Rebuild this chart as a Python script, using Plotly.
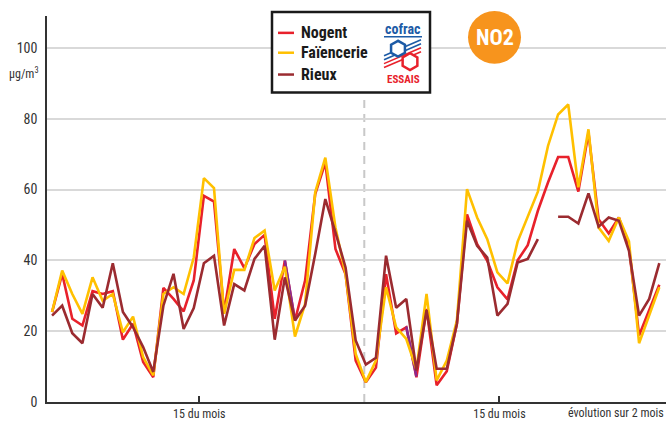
import math
import plotly.graph_objects as go

# ---------------- data ----------------
days = list(range(61))
nogent = [25.4, 36.2, 23.5, 21.6, 31.3, 30.5, 31.3, 17.6, 22.1, 11.3,
          7.0, 32.2, 29.1, 25.6, 34.3, 58.2, 56.6, 25.4, 43.2, 37.8,
          44.6, 47.2, 23.5, 39.9, 23.0, 34.3, 58.7, 67.6, 43.2, 36.1,
          11.7, 5.6, 9.7, 36.1, 19.4, 21.1, 7.0, 26.3, 4.7, 8.7,
          22.1, 53.0, 44.6, 39.9, 32.4, 29.0, 40.0, 44.3, 54.0, 62.0,
          69.2, 69.2, 59.4, 76.0, 51.6, 47.6, 52.1, 43.7, 18.8, 25.8, 33.1]
faiencerie = [25.4, 37.1, 30.5, 24.9, 35.2, 28.6, 30.5, 19.7, 24.1, 12.7,
              7.5, 30.5, 32.4, 30.5, 40.8, 63.2, 60.4, 24.9, 37.3, 37.3,
              46.3, 48.4, 31.5, 38.2, 18.5, 27.7, 59.2, 69.0, 49.3, 36.1,
              13.6, 5.6, 11.7, 32.4, 21.1, 17.8, 9.2, 30.5, 6.1, 11.7,
              23.0, 60.1, 52.1, 46.0, 36.6, 33.5, 45.3, 52.3, 59.4, 72.3,
              81.2, 84.0, 60.6, 77.0, 49.3, 45.5, 52.1, 45.4, 16.6, 24.5, 32.4]
rieux = [24.4, 27.2, 19.4, 16.6, 30.5, 26.6, 39.2, 25.4, 21.1, 15.5,
         8.5, 27.2, 36.2, 20.6, 26.5, 39.2, 41.3, 21.6, 33.3, 31.5,
         40.4, 44.1, 17.6, 35.2, 23.0, 27.2, 41.8, 57.3, 47.9, 38.0,
         17.4, 10.6, 12.5, 41.3, 26.6, 29.1, 8.9, 26.0, 9.4, 9.4,
         22.1, 51.2, 44.1, 40.8, 24.4, 27.7, 39.4, 40.4, 46.0, None,
         52.3, 52.3, 50.4, 58.9, 49.5, 52.1, 51.2, 42.7, 24.4, 29.1, 39.2]
violet_days = [23, 24, None, 35, 36]
violet = [40.0, 23.0, None, 21.3, 7.2]

series_names = ["Nogent", "Faïencerie", "Rieux"]
x_tick_labels = ["15 du mois", "15 du mois"]
y_tick_values = [0, 20, 40, 60, 80, 100]

# ---------------- styles ----------------
C_RED = "#e8212b"
C_YEL = "#ffc000"
C_DARK = "#9b2b30"
C_VIO = "#8a2a90"
FONT = "Liberation Sans Narrow, Roboto Condensed, Roboto, sans-serif"

# plot area in pixels: left 47, right 666, top 16, bottom 405
L, R, T, B = 47, 666, 16, 405
def px(x):
    return (x - L) / (R - L)
def py(y):
    return (B - y) / (B - T)

fig = go.Figure()
lw = 2.6
fig.add_trace(go.Scatter(x=days, y=nogent, mode="lines", name=series_names[0],
                         line=dict(color=C_RED, width=lw)))
fig.add_trace(go.Scatter(x=violet_days, y=violet, mode="lines", showlegend=False,
                         line=dict(color=C_VIO, width=lw)))
fig.add_trace(go.Scatter(x=days, y=faiencerie, mode="lines", name=series_names[1],
                         line=dict(color=C_YEL, width=lw)))
fig.add_trace(go.Scatter(x=days, y=rieux, mode="lines", name=series_names[2],
                         line=dict(color=C_DARK, width=lw)))

shapes = []
annotations = []

# dashed separator between the two months
shapes.append(dict(type="line", xref="x", yref="y", x0=30.85, x1=30.85, y0=0, y1=86,
                   line=dict(color="#c8c8c8", width=2, dash="8px,6px"), layer="below"))

# legend box
shapes.append(dict(type="rect", xref="paper", yref="paper",
                   x0=px(272), x1=px(430), y0=py(93), y1=py(12),
                   line=dict(color="#1a1a1a", width=2.5), fillcolor="white", layer="above"))
leg_y = [33, 53, 75]
leg_c = [C_RED, C_YEL, C_DARK]
for name, yy, cc in zip(series_names, leg_y, leg_c):
    shapes.append(dict(type="line", xref="paper", yref="paper",
                       x0=px(278), x1=px(294), y0=py(yy), y1=py(yy),
                       line=dict(color=cc, width=2.5), layer="above"))
    annotations.append(dict(text="<b>%s</b>" % name, xref="paper", yref="paper",
                            x=px(299), y=py(yy), xanchor="left", yanchor="middle",
                            showarrow=False, font=dict(family=FONT, size=16, color="#1a1a1a")))

# cofrac logo
annotations.append(dict(text="<b>cofrac</b>", xref="paper", yref="paper", x=px(403), y=py(29),
                        xanchor="center", yanchor="middle", showarrow=False,
                        font=dict(family=FONT, size=14, color="#1d5ba6")))
annotations.append(dict(text="<b>ESSAIS</b>", xref="paper", yref="paper", x=px(403), y=py(80),
                        xanchor="center", yanchor="middle", showarrow=False,
                        font=dict(family=FONT, size=11, color="#e8212b")))
shapes.append(dict(type="line", xref="paper", yref="paper", x0=px(384), x1=px(422),
                   y0=py(37), y1=py(37), line=dict(color="#1d5ba6", width=1.5), layer="above"))
def hexpath(cx, cy, r):
    pts = []
    for k in range(6):
        a = math.radians(90 + 60 * k)
        pts.append((px(cx + r * math.cos(a)), py(cy - r * math.sin(a))))
    return "M " + " L ".join("%f,%f" % p for p in pts) + " Z"
for col, off in [("#1d5ba6", 0), ("#1d5ba6", 4), ("#e8212b", 8), ("#e8212b", 12)]:
    shapes.append(dict(type="line", xref="paper", yref="paper",
                       x0=px(384), y0=py(56 + off), x1=px(421), y1=py(40 + off),
                       line=dict(color=col, width=1.6), layer="above"))
shapes.append(dict(type="path", xref="paper", yref="paper", path=hexpath(398, 49, 8),
                   line=dict(color="#1d5ba6", width=2.5), fillcolor="white", layer="above"))
shapes.append(dict(type="path", xref="paper", yref="paper", path=hexpath(410, 62, 8.5),
                   line=dict(color="#e8212b", width=2.5), fillcolor="white", layer="above"))

# NO2 badge
shapes.append(dict(type="circle", xref="paper", yref="paper",
                   x0=px(468), x1=px(521), y0=py(64), y1=py(11),
                   line=dict(width=0), fillcolor="#f7941d", layer="above"))
annotations.append(dict(text="<b>NO2</b>", xref="paper", yref="paper", x=px(494.5), y=py(38),
                        xanchor="center", yanchor="middle", showarrow=False,
                        font=dict(family=FONT, size=22, color="white")))

# unit label
annotations.append(dict(text="µg/m<sup>3</sup>", xref="paper", yref="paper", x=px(41), y=py(73),
                        xanchor="right", yanchor="middle", showarrow=False,
                        font=dict(family=FONT, size=12, color="#333")))
# bottom-right caption
annotations.append(dict(text="évolution sur 2 mois", xref="paper", yref="paper", x=px(666), y=py(416),
                        xanchor="right", yanchor="middle", showarrow=False,
                        font=dict(family=FONT, size=12, color="#333")))

fig.update_layout(
    width=667, height=422,
    margin=dict(l=L, r=667 - R, t=T, b=422 - B),
    paper_bgcolor="white", plot_bgcolor="white",
    showlegend=False,
    shapes=shapes, annotations=annotations,
    font=dict(family=FONT, size=12, color="#333"),
)
fig.update_xaxes(range=[-0.5, 60.66], showgrid=False, zeroline=False,
                 showline=True, linecolor="#333", linewidth=1.5,
                 tickmode="array", tickvals=[14.55, 44.2], ticktext=x_tick_labels,
                 ticks="inside", ticklen=6, tickwidth=1.5, tickcolor="#333",
                 tickfont=dict(family=FONT, size=12, color="#333"))
fig.update_yaxes(range=[0, 109], showgrid=True, gridcolor="#d9d9d9", gridwidth=1.6,
                 zeroline=False, showline=True, linecolor="#333", linewidth=1.5,
                 tickmode="array", tickvals=y_tick_values, ticks="",
                 ticklabelstandoff=5,
                 tickfont=dict(family=FONT, size=14, color="#333"))

fig.write_html("out.html", config={"displayModeBar": False},
               post_script="document.body.style.margin='0';document.body.style.overflow='hidden';")
